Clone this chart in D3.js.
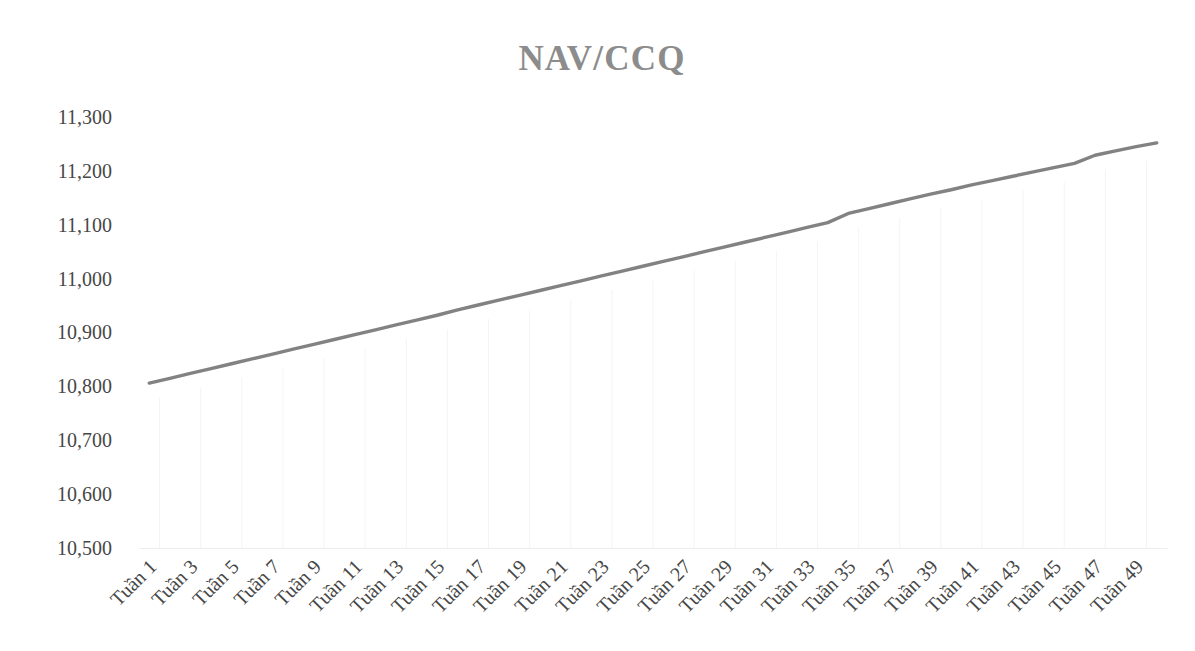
<!DOCTYPE html>
<html>
<head>
<meta charset="utf-8">
<script src="https://cdn.jsdelivr.net/npm/d3@7/dist/d3.min.js"></script>
<style>
  html, body { margin: 0; padding: 0; background: #ffffff; }
  svg { display: block; }
</style>
</head>
<body>
<svg id="chart" width="1195" height="651"></svg>
<script>
// Weekly NAV per fund certificate, weeks 1–50
const weeks = d3.range(1, 51).map(i => "Tuần " + i);
const navValues = [
  10806, 10815, 10824, 10833, 10842, 10851, 10860, 10869, 10878, 10887,
  10896, 10905, 10914, 10923, 10932, 10942, 10951, 10960, 10969, 10978,
  10987, 10996, 11005, 11014, 11023, 11032, 11041, 11050, 11059, 11068,
  11077, 11086, 11095, 11104, 11121, 11130, 11139, 11148, 11157, 11165,
  11174, 11182, 11190, 11198, 11206, 11214, 11229, 11237, 11245, 11252
];
const yTicks = [10500, 10600, 10700, 10800, 10900, 11000, 11100, 11200, 11300];
const titleText = "NAV/CCQ";

const svg = d3.select("#chart");
const plot = { left: 139, right: 1167, top: 117, bottom: 548 };

const x = d3.scalePoint()
  .domain(weeks)
  .range([plot.left, plot.right])
  .padding(0.5);

const y = d3.scaleLinear()
  .domain([10500, 11300])
  .range([plot.bottom, plot.top]);

const serif = "'Liberation Serif', 'Times New Roman', serif";

// Title
svg.append("text")
  .attr("x", 602)
  .attr("y", 70)
  .attr("text-anchor", "middle")
  .attr("font-family", serif)
  .attr("font-weight", "bold")
  .attr("font-size", 35)
  .attr("letter-spacing", 1.2)
  .attr("fill", "#8c8c8c")
  .text(titleText);

// Faint category separators beneath the line
const oddWeeks = weeks.filter((d, i) => i % 2 === 0);
svg.append("g")
  .selectAll("line")
  .data(oddWeeks)
  .join("line")
  .attr("x1", d => x(d) + x.step() / 2)
  .attr("x2", d => x(d) + x.step() / 2)
  .attr("y1", d => y(navValues[weeks.indexOf(d)]) + 14)
  .attr("y2", plot.bottom)
  .attr("stroke", "#f4f4f4")
  .attr("stroke-width", 1);

// Y axis (labels only)
const yAxis = d3.axisLeft(y)
  .tickValues(yTicks)
  .tickFormat(d3.format(","))
  .tickSize(0)
  .tickPadding(0);

const gy = svg.append("g")
  .attr("transform", `translate(112,0)`)
  .call(yAxis);
gy.select(".domain").remove();
gy.selectAll("text")
  .attr("font-family", serif)
  .attr("font-size", 20)
  .attr("fill", "#474747");

// X axis
const xAxis = d3.axisBottom(x)
  .tickValues(oddWeeks)
  .tickSize(0)
  .tickPadding(0);

const gx = svg.append("g")
  .attr("transform", `translate(0,${plot.bottom})`)
  .call(xAxis);
gx.select(".domain")
  .attr("stroke", "#ededed")
  .attr("stroke-width", 1);
gx.selectAll("text")
  .attr("font-family", serif)
  .attr("font-size", 20)
  .attr("fill", "#474747")
  .attr("text-anchor", "end")
  .attr("dy", 0)
  .attr("transform", "translate(8,20) rotate(-45)");

// NAV line
const line = d3.line()
  .x((d, i) => x(weeks[i]))
  .y(d => y(d));

svg.append("path")
  .datum(navValues)
  .attr("d", line)
  .attr("fill", "none")
  .attr("stroke", "#828282")
  .attr("stroke-width", 3.4)
  .attr("stroke-linejoin", "round")
  .attr("stroke-linecap", "round");
</script>
</body>
</html>
